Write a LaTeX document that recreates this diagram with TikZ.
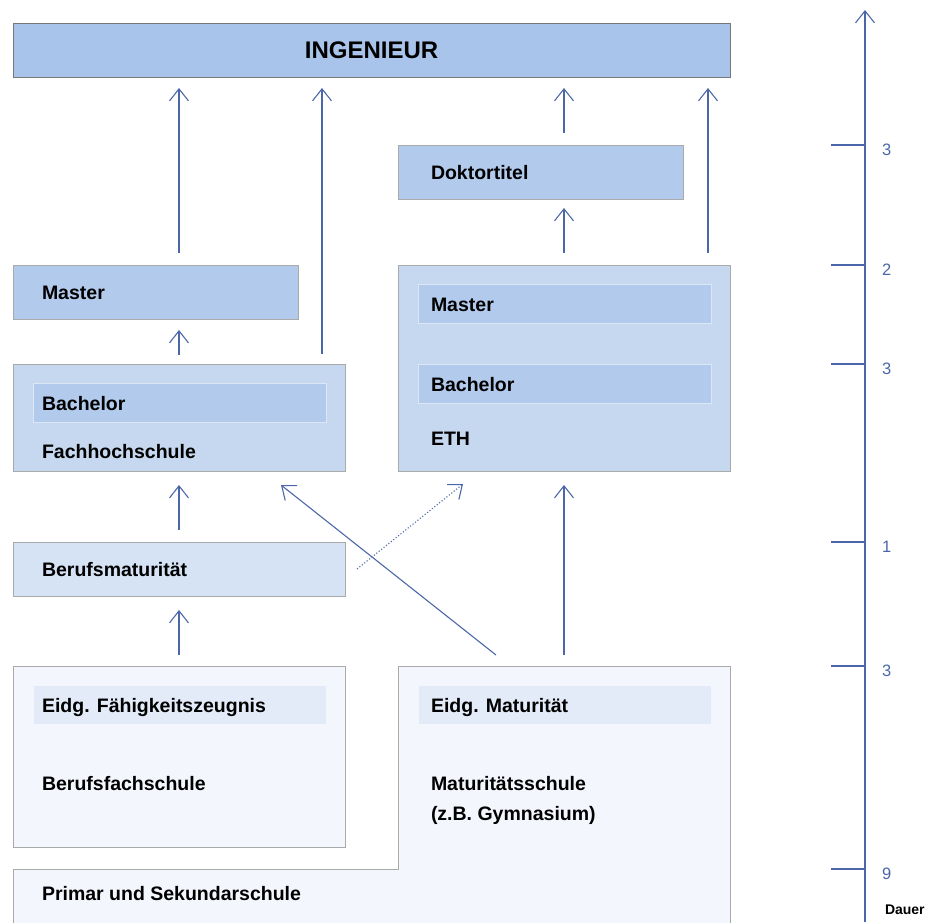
\documentclass[tikz,border=0pt]{standalone}
\usepackage{fontspec}
\setmainfont{Liberation Sans}
\usetikzlibrary{positioning,arrows.meta}

\definecolor{ingfill}{HTML}{A9C4EA}
\definecolor{ingframe}{HTML}{777777}
\definecolor{deep}{HTML}{B2CAEC}
\definecolor{mid}{HTML}{C6D8F0}
\definecolor{light}{HTML}{D5E3F5}
\definecolor{pale}{HTML}{F3F6FC}
\definecolor{paleinner}{HTML}{E4EBF8}
\definecolor{frame}{HTML}{AAAAAA}
\definecolor{flow}{HTML}{4C67A9}

\begin{document}
\begin{tikzpicture}[
  x=1pt, y=-1pt,
  every node/.style={inner sep=0pt, outer sep=0pt},
  box/.style={draw=frame, line width=0.9pt, anchor=north west},
  sub/.style={draw=white!55!#1, fill=#1, line width=0.8pt, minimum width=293pt, minimum height=39pt},
  lbl/.style={font=\fontsize{19.5}{22}\selectfont\bfseries, anchor=west, text height=1.4ex, text depth=0pt, yshift=-4pt},
  title/.style={font=\fontsize{24}{28}\selectfont\bfseries},
  arr/.style={draw=flow, line width=1.1pt, -{Straight Barb[length=12pt,width=19pt]}},
  tick/.style={draw=flow, line width=1.1pt},
  ticklbl/.style={font=\fontsize{16.5}{18}\selectfont, text=flow},
  dauer/.style={font=\fontsize{14}{16}\selectfont\bfseries},
]
\useasboundingbox (0,0) rectangle (932,922);

% top level
\node[box, draw=ingframe, fill=ingfill, minimum width=717pt, minimum height=54pt] (ing) at (13,23) {};
\node[title] (ingtext) at (ing.center) {INGENIEUR};

\node[box, fill=deep, minimum width=285pt, minimum height=54pt] (dok) at (398,145) {};
\node[lbl, right=33pt of dok.west] (doktext) {Doktortitel};

% Fachhochschule column
\node[box, fill=deep, minimum width=285pt, minimum height=54pt] (masterL) at (13,265) {};
\node[lbl, right=29pt of masterL.west] (masterLtext) {Master};

\node[box, fill=mid, minimum width=332pt, minimum height=107pt] (fh) at (13,364) {};
\node[sub=deep, below right=19pt and 20pt of fh.north west] (fhbach) {};
\node[lbl, right=9pt of fhbach.west] (fhbachtext) {Bachelor};
\node[lbl] (fhtext) at ([xshift=29pt,yshift=20pt]fh.south west) {Fachhochschule};

\node[box, fill=light, minimum width=332pt, minimum height=54pt] (bm) at (13,542) {};
\node[lbl, right=29pt of bm.west] (bmtext) {Berufsmaturität};

\node[box, fill=pale, minimum width=332pt, minimum height=181pt] (bfs) at (13,666) {};
\node[sub=paleinner, below right=19pt and 20pt of bfs.north west] (efz) {};
\node[lbl, right=9pt of efz.west] (efztext) {Eidg. Fähigkeitszeugnis};
\node[lbl] (bfstext) at ([xshift=29pt,yshift=-117pt]bfs.north west) {Berufsfachschule};

% ETH column
\node[box, fill=mid, minimum width=332pt, minimum height=206pt] (eth) at (398,265) {};
\node[sub=deep, below right=19pt and 20pt of eth.north west] (ethmaster) {};
\node[lbl, right=13pt of ethmaster.west] (ethmastertext) {Master};
\node[sub=deep, below right=99pt and 20pt of eth.north west] (ethbach) {};
\node[lbl, right=13pt of ethbach.west] (ethbachtext) {Bachelor};
\node[lbl] (ethtext) at ([xshift=33pt,yshift=33pt]eth.south west) {ETH};

% Maturitaetsschule and Primar/Sekundar share one outline
\node[anchor=north west, minimum width=332pt, minimum height=270pt] (mat) at (398,666) {};
\node[anchor=north west, minimum width=717pt, minimum height=70pt] (prim) at (13,869) {};
\filldraw[fill=pale, draw=frame, line width=0.9pt] (prim.south west) -- (prim.north west)
  -- (prim.north -| mat.west) -- (mat.north west) -- (mat.north east) -- (prim.south east);
\node[sub=paleinner, below right=19pt and 20pt of mat.north west] (matur) {};
\node[lbl, right=13pt of matur.west] (maturtext) {Eidg. Maturität};
\node[lbl] (mattext) at ([xshift=33pt,yshift=-117pt]mat.north west) {Maturitätsschule};
\node[lbl] (gymtext) at ([xshift=33pt,yshift=-147pt]mat.north west) {(z.B. Gymnasium)};
\node[lbl] (primtext) at ([xshift=29pt,yshift=-24pt]prim.north west) {Primar und Sekundarschule};

% paths
\coordinate (fhup) at ([xshift=-23pt]fh.north east);
\coordinate (ethup) at ([xshift=-22pt]eth.north east);
\draw[arr, shorten <=12pt, shorten >=11pt] (masterL.north -| fh.north) -- (ing.south -| fh.north);
\draw[arr, shorten <=9pt, shorten >=11pt] (fh.north) -- (masterL.south -| fh.north);
\draw[arr, shorten <=10pt, shorten >=11pt] (fhup) -- (ing.south -| fhup);
\draw[arr, shorten <=12pt, shorten >=9pt] (eth.north) -- (dok.south -| eth.north);
\draw[arr, shorten <=12pt, shorten >=11pt] (dok.north -| eth.north) -- (ing.south -| eth.north);
\draw[arr, shorten <=12pt, shorten >=11pt] (ethup) -- (ing.south -| ethup);
\draw[arr, shorten <=12pt, shorten >=14pt] (bm.north) -- (fh.south);
\draw[arr, shorten <=11pt, shorten >=14pt] (bfs.north) -- (bm.south);
\draw[arr, shorten <=11pt, shorten >=14pt] (mat.north) -- (eth.south);
\draw[arr] ([xshift=98pt,yshift=11pt]mat.north west) -- ([xshift=-64pt,yshift=-14pt]fh.south east);
\draw[arr, dotted] ([xshift=12pt]bm.east) -- ([xshift=65pt,yshift=-13pt]eth.south west);

% Dauer axis
\coordinate (axbot) at (865,922);
\coordinate (axtop) at (865,10);
\draw[arr] (axbot) -- (axtop);
\foreach \nd/\yrs in {dok/3, masterL/2, fh/3, bm/1, bfs/3, prim/9}
  \draw[tick] (\nd.north -| axbot) ++(-34,0) -- (\nd.north -| axbot)
    node[ticklbl, right=17pt, yshift=-5pt] (t-\nd) {\yrs};
\node[dauer, anchor=north west] (dauer) at (885,905) {Dauer};
\end{tikzpicture}
\end{document}
